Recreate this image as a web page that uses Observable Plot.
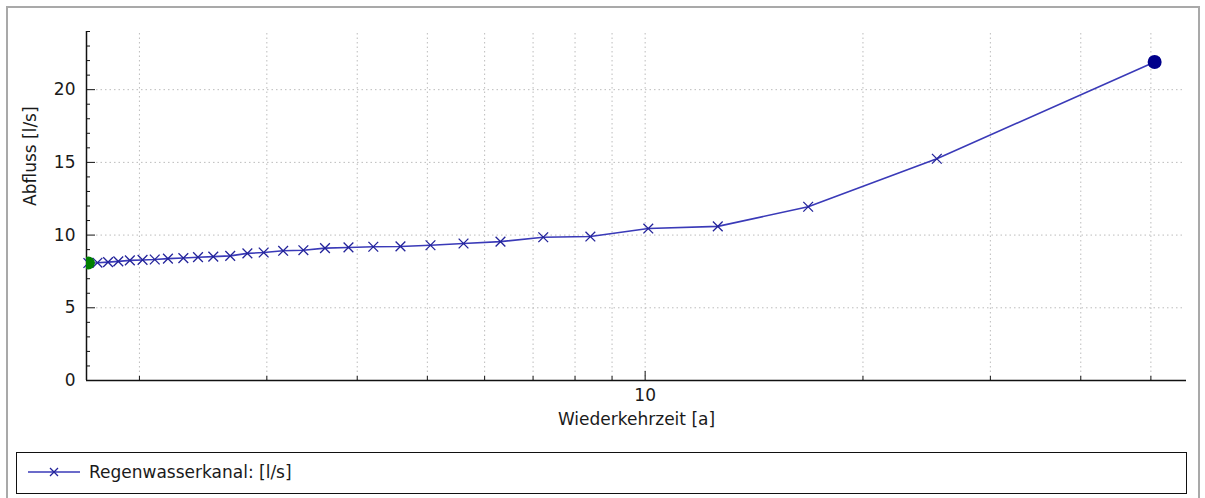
<!DOCTYPE html>
<html>
<head>
<meta charset="utf-8">
<script src="https://cdn.jsdelivr.net/npm/d3@7"></script>
<script src="https://cdn.jsdelivr.net/npm/@observablehq/plot@0.6"></script>
<style>
  html, body { margin: 0; padding: 0; background: #fff; width: 1205px; height: 498px; overflow: hidden; }
  #frame { position: absolute; left: 6px; top: 6px; width: 1194px; height: 520px; border: 2px solid #a9a9a9; box-sizing: border-box; }
  #chart { position: absolute; left: 0; top: 0; }
  #legend { position: absolute; left: 16px; top: 452px; width: 1171px; height: 42px; border: 1px solid #111; box-sizing: border-box;
            font-family: "DejaVu Sans", sans-serif; font-size: 17px; color: #1a1a1a; }
  #legend svg { position: absolute; left: 10px; top: 8px; }
  #legend span { position: absolute; left: 72px; top: 9px; white-space: nowrap; }
</style>
</head>
<body>
<div id="frame"></div>
<div id="chart"></div>
<div id="legend"></div>
<script>
// ---- data ----
const returnPeriod = [1.70, 1.75, 1.81, 1.87, 1.94, 2.02, 2.10, 2.19, 2.30, 2.41, 2.53, 2.67, 2.82, 2.97, 3.16,
                      3.37, 3.61, 3.89, 4.21, 4.59, 5.05, 5.61, 6.31, 7.23, 8.40, 10.1, 12.6, 16.8, 25.3, 50.6];
const discharge    = [8.08, 8.10, 8.14, 8.19, 8.26, 8.29, 8.32, 8.38, 8.42, 8.48, 8.52, 8.57, 8.74, 8.80, 8.92,
                      8.96, 9.10, 9.15, 9.20, 9.22, 9.30, 9.42, 9.55, 9.85, 9.90, 10.45, 10.60, 11.95, 15.25, 21.90];
const seriesName = "Regenwasserkanal: [l/s]";
const xTitle = "Wiederkehrzeit [a]";
const yTitle = "Abfluss [l/s]";
const xDomain = [1.69, 56];
const yDomain = [0, 24];
const xLabelTicks = [10];
const xMajorTicks = [10];
const xMinorTicks = [2, 3, 4, 5, 6, 7, 8, 9, 20, 30, 40, 50];
const xGridTicks = [2, 3, 4, 5, 6, 7, 8, 9, 10, 20, 30, 40, 50];
const yMajorTicks = [0, 5, 10, 15, 20];
const yMinorTicks = [1, 2, 3, 4, 6, 7, 8, 9, 11, 12, 13, 14, 16, 17, 18, 19, 21, 22, 23, 24];
const yGridTicks = [5, 10, 15, 20];

const data = returnPeriod.map((t, i) => ({t, q: discharge[i]}));

const W = 1205, H = 440, mL = 86, mR = 19, mT = 31, mB = 60;
const plotW = W - mL - mR, plotH = H - mT - mB;
const lineColor = "#3a3ab8";
const markColor = "#23239a";

const chart = Plot.plot({
  width: W, height: H,
  marginLeft: mL, marginRight: mR, marginTop: mT, marginBottom: mB,
  style: {fontFamily: "DejaVu Sans, sans-serif", fontSize: "17px", color: "#1a1a1a", background: "transparent", overflow: "visible"},
  x: {type: "log", domain: xDomain},
  y: {domain: yDomain},
  marks: [
    Plot.gridX(xGridTicks, {stroke: "#bcbcbc", strokeOpacity: 1, strokeDasharray: "1.5,3", insetTop: 2}),
    Plot.gridY(yGridTicks, {stroke: "#bcbcbc", strokeOpacity: 1, strokeDasharray: "1.5,3", insetLeft: 10, insetRight: 4}),
    Plot.tickY(yMinorTicks, {insetRight: plotW - 4, stroke: "#111"}),
    Plot.tickY(yMajorTicks, {insetRight: plotW - 9, stroke: "#111"}),
    Plot.tickX(xMinorTicks, {insetTop: plotH - 4, stroke: "#111"}),
    Plot.tickX(xMajorTicks, {insetTop: plotH - 9, stroke: "#111"}),
    Plot.ruleY([yDomain[0]], {stroke: "#111", strokeWidth: 1.5}),
    Plot.ruleX([xDomain[0]], {stroke: "#111", strokeWidth: 1.5}),
    Plot.axisY(yMajorTicks, {tickSize: 0, tickPadding: 11, label: null, tickFormat: d => String(d)}),
    Plot.axisX(xLabelTicks, {tickSize: 0, tickPadding: 8, label: null, tickFormat: d => String(d)}),
    Plot.text([xTitle], {frameAnchor: "bottom", dy: 44, text: d => d, fill: "#1a1a1a"}),
    Plot.text([yTitle], {frameAnchor: "left", dx: -56, rotate: -90, text: d => d, fill: "#1a1a1a"}),
    Plot.line(data, {x: "t", y: "q", stroke: lineColor, strokeWidth: 1.6}),
    Plot.dot(data, {x: "t", y: "q", symbol: "times", r: 4.5, stroke: markColor, strokeWidth: 1.3}),
    Plot.dot(data.slice(0, 1), {x: "t", y: "q", r: 6.5, fill: "#008000", clip: true}),
    Plot.dot(data.slice(-1), {x: "t", y: "q", r: 7, fill: "#00008b"})
  ]
});
document.getElementById("chart").appendChild(chart);

// legend
const legend = document.getElementById("legend");
const ns = "http://www.w3.org/2000/svg";
const sv = document.createElementNS(ns, "svg");
sv.setAttribute("width", 56); sv.setAttribute("height", 22);
sv.innerHTML = `<line x1="1" x2="53" y1="11" y2="11" stroke="${lineColor}" stroke-width="1.6"/>
  <path d="M23,7L31,15M31,7L23,15" stroke="${markColor}" stroke-width="1.3"/>`;
legend.appendChild(sv);
const sp = document.createElement("span");
sp.textContent = seriesName;
legend.appendChild(sp);
</script>
</body>
</html>
